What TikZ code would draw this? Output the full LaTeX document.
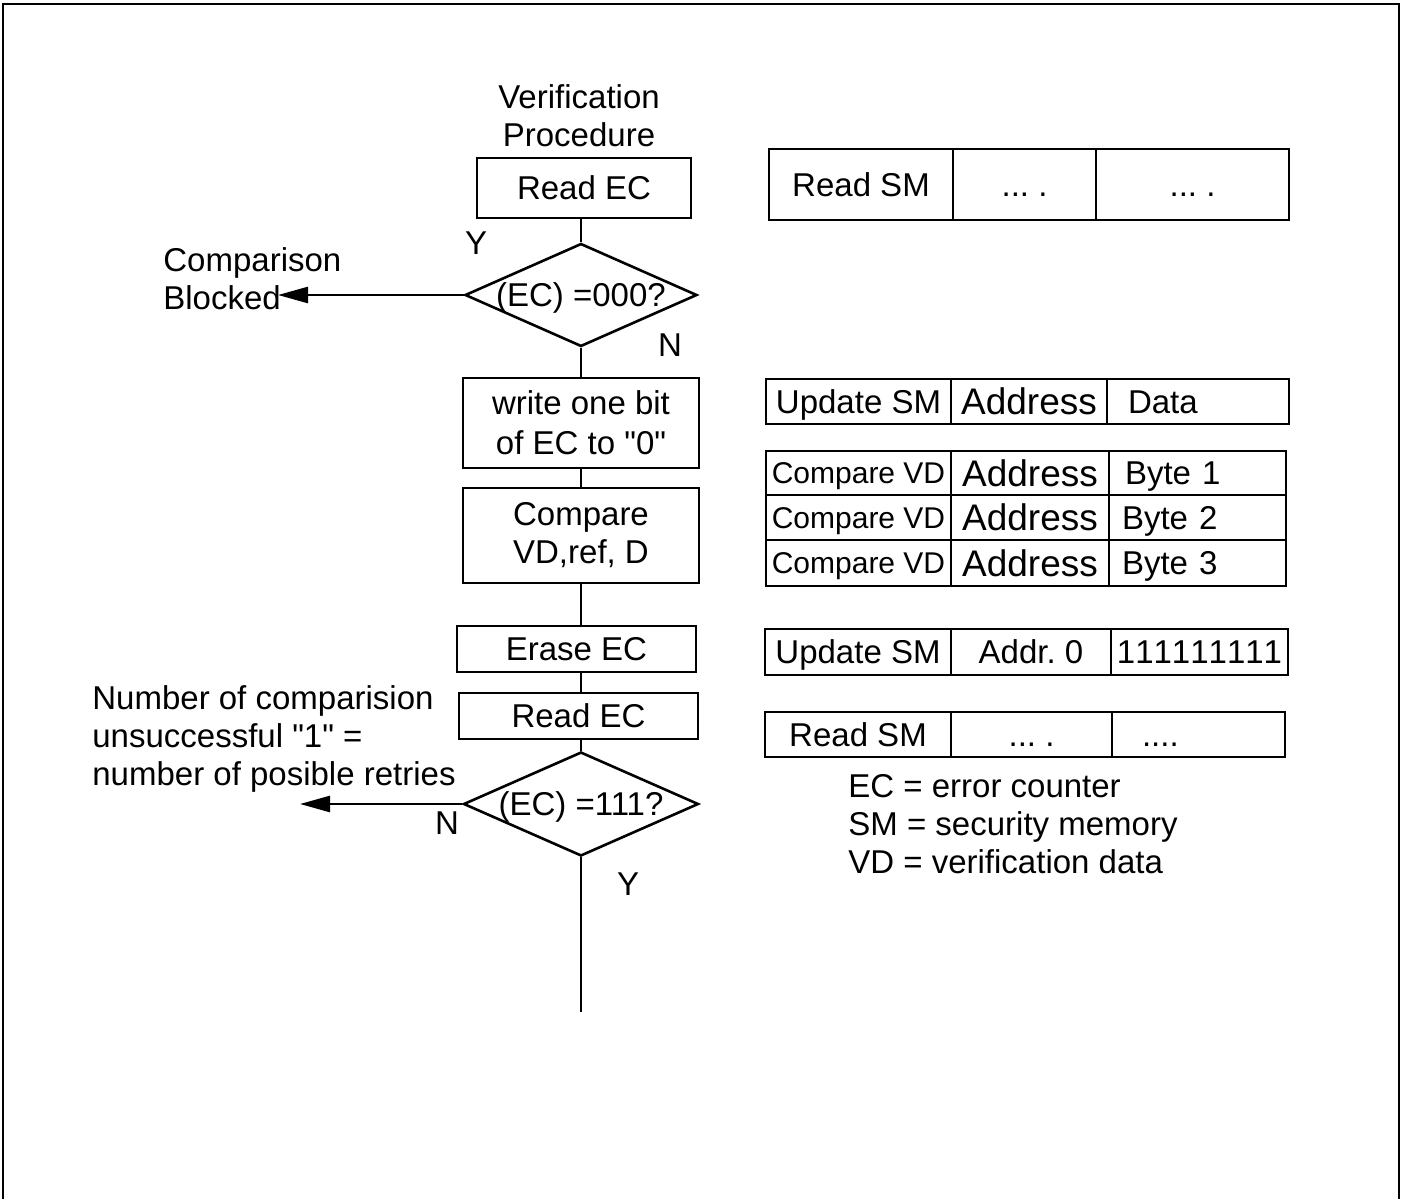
\documentclass[tikz,border=0pt]{standalone}
\usepackage{fontspec}
\setmainfont{Liberation Sans}[Ligatures=TeXOff]
\usetikzlibrary{shapes.geometric,arrows.meta}
\newcommand\tcell[7][]{%
  \node[cellbox, minimum width={(#5-#3)*0.5pt}, minimum height={(#6-#4)*0.5pt}, #1]
    (#2) at ({(#3+#5)/2},{(#4+#6)/2}) {#7};}
\begin{document}
\frenchspacing
\begin{tikzpicture}[x=0.5pt,y=-0.5pt,
  every node/.style={font=\fontsize{16.5}{19}\selectfont},
  box/.style={draw, line width=1.3pt, inner sep=0pt, align=center},
  onebox/.style={box, text height=11.8pt, text depth=0pt},
  dia/.style={draw, shape=diamond, line width=1.3pt, inner sep=0pt},
  cellbox/.style={draw, line width=1.2pt, inner sep=0pt, text height=11.8pt, text depth=0pt},
  conn/.style={line width=1.3pt},
  arr/.style={line width=1.3pt, -{Triangle[length=15pt,width=8pt]}},
  plain/.style={inner sep=0pt, align=left},
  cvd/.style={font=\fontsize{15}{18}\selectfont, text height=10.7pt},
  big/.style={font=\fontsize{18.5}{21}\selectfont, text height=13.2pt},
  leftcell/.style={align=left, inner xsep=#1},
]
\useasboundingbox (0,0) rectangle (1403,1199);
\draw[line width=0.9pt] (3,1199) -- (3,4) -- (1399,4) -- (1399,1199);

% flowchart
\node[align=center, inner sep=0pt] (title) at (579,115.5) {Verification\\Procedure};
\node[onebox, minimum width=107pt, minimum height=30pt] (re1) at (584,188) {Read EC};
\node[dia, minimum width=116pt, minimum height=51.5pt, label={[text height=11.8pt, text depth=0pt]center:{(EC) =000?}}] (d1) at (581,295) {};
\node[box, minimum width=118pt, minimum height=45pt] (b2) at (581,423) {write one bit\\[1pt]of EC to "0"};
\node[box, minimum width=118pt, minimum height=47.5pt] (b3) at (581,535.5) {Compare\\VD,ref, D};
\node[onebox, minimum width=119.5pt, minimum height=23pt] (ee) at (576.5,649) {Erase EC};
\node[onebox, minimum width=119.5pt, minimum height=23pt] (re2) at (578.5,716) {Read EC};
\node[dia, minimum width=117.5pt, minimum height=52pt, label={[text height=11.8pt, text depth=0pt]center:{(EC) =111?}}] (d2) at (581,804) {};

\coordinate (cbtip) at (278,295);
\coordinate (rtip) at (300,804);
\coordinate (endpt) at (581,1012);

\draw[conn] (d1.north |- re1.south) -- (d1.north);
\draw[arr] (d1.west) -- (cbtip);
\draw[conn] (d1.south) -- (b2.north);
\draw[conn] (b2.south) -- (b3.north);
\draw[conn] (b3.south) -- (b3.south |- ee.north);
\draw[conn] (b3.south |- ee.south) -- (b3.south |- re2.north);
\draw[conn] (d2.north |- re2.south) -- (d2.north);
\draw[arr] (d2.west) -- (rtip);
\draw[conn] (d2.south) -- (endpt);

\node (y1) at (476,243) {Y};
\node (n1) at (670,345) {N};
\node (n2) at (447,823) {N};
\node (y2) at (628,884) {Y};

\node[plain, anchor=west] (cbtext) at (163,279) {Comparison\\Blocked};
\node[plain, anchor=west] (retries) at (92,739) {Number of comparision\\unsuccessful "1" =\\number of posible retries};
\node[plain, anchor=west] (legend) at (848,824) {EC = error counter\\SM = security memory\\VD = verification data};

% tables
\tcell{t1a}{769}{149}{953}{220}{Read SM}
\tcell{t1b}{953}{149}{1096}{220}{... .}
\tcell{t1c}{1096}{149}{1289}{220}{... .}

\tcell{t2a}{766}{379}{951}{424}{Update SM}
\tcell[big]{t2b}{951}{379}{1107}{424}{Address}
\tcell[leftcell=10.5pt, text width=70pt]{t2c}{1107}{379}{1289}{424}{Data}

\tcell[cvd]{t3a}{766}{451}{951}{495}{Compare VD}
\tcell[big]{t3b}{951}{451}{1109}{495}{Address}
\tcell[leftcell=8pt, text width=72.5pt]{t3c}{1109}{451}{1286}{495}{Byte 1}
\tcell[cvd]{t4a}{766}{495}{951}{540}{Compare VD}
\tcell[big]{t4b}{951}{495}{1109}{540}{Address}
\tcell[leftcell=6.5pt, text width=75.5pt]{t4c}{1109}{495}{1286}{540}{Byte 2}
\tcell[cvd]{t5a}{766}{540}{951}{586}{Compare VD}
\tcell[big]{t5b}{951}{540}{1109}{586}{Address}
\tcell[leftcell=6.5pt, text width=75.5pt]{t5c}{1109}{540}{1286}{586}{Byte 3}

\tcell{t6a}{765}{629}{951}{675}{Update SM}
\tcell{t6b}{951}{629}{1111}{675}{Addr. 0}
\tcell{t6c}{1111}{629}{1288}{675}{\addfontfeatures{Kerning=Off}111111111}

\tcell{t7a}{765}{712}{951}{757}{Read SM}
\tcell{t7b}{951}{712}{1112}{757}{... .}
\tcell[leftcell=15pt, text width=56.5pt]{t7c}{1112}{712}{1285}{757}{....}
\end{tikzpicture}
\end{document}
